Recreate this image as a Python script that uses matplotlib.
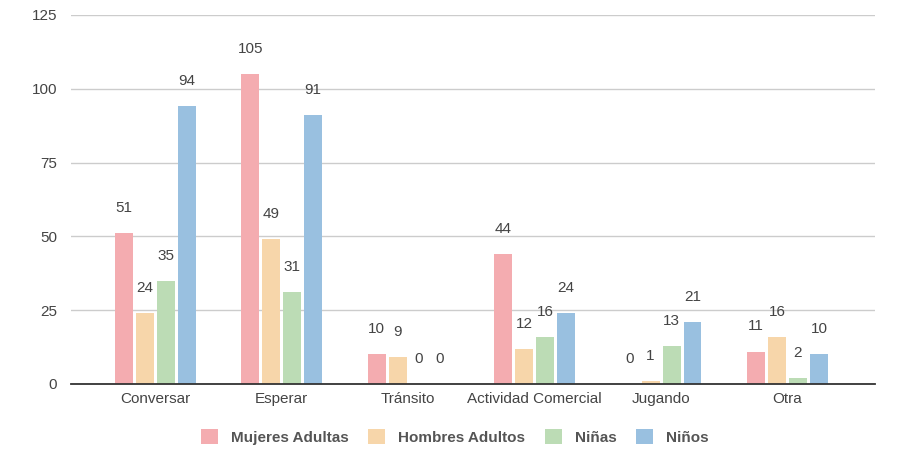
import numpy as np
import matplotlib
matplotlib.use("Agg")
import matplotlib.pyplot as plt

plt.rcParams['font.family'] = ['Liberation Sans', 'DejaVu Sans']

categories = ["Conversar", "Esperar", "Tránsito", "Actividad Comercial", "Jugando", "Otra"]
series = ["Mujeres Adultas", "Hombres Adultos", "Niñas", "Niños"]
mujeres = [51, 105, 10, 44, 0, 11]
hombres = [24, 49, 9, 12, 1, 16]
ninas = [35, 31, 0, 16, 13, 2]
ninos = [94, 91, 0, 24, 21, 10]
colors = ["#f4acb0", "#f7d6aa", "#bcdcb5", "#99c0e0"]

fig = plt.figure(figsize=(8.99, 4.5), dpi=100)
ax = fig.add_axes([0.079, 0.1467, 0.894, 0.82])

x = np.arange(len(categories))
step = 0.166
width = 0.142
for i, (vals, c, name) in enumerate(zip([mujeres, hombres, ninas, ninos], colors, series)):
    pos = x + (i - 1.5) * step
    ax.bar(pos, vals, width=width, color=c, label=name, zorder=3, linewidth=0)
    for p, v in zip(pos, vals):
        ax.annotate(str(v), (p, v), xytext=(0, 13), textcoords="offset points",
                    ha="center", va="bottom", fontsize=11, color="#444444")

ax.set_ylim(0, 125)
ax.set_yticks([0, 25, 50, 75, 100, 125])
ax.set_xlim(-0.666, 5.69)
ax.set_xticks(x)
ax.set_xticklabels(categories)
ax.tick_params(axis="both", length=0, labelsize=11, colors="#444444")
ax.tick_params(axis="y", pad=10)
ax.tick_params(axis="x", pad=6)
ax.grid(axis="y", color="#cccccc", linewidth=1, zorder=0)
for s in ["top", "right", "left"]:
    ax.spines[s].set_visible(False)
ax.spines["bottom"].set_color("#333333")
ax.spines["bottom"].set_linewidth(1.3)
ax.spines["bottom"].set_zorder(4)

handles, labels = ax.get_legend_handles_labels()
leg = fig.legend(handles, labels, loc="center", bbox_to_anchor=(0.506, 0.029), ncol=4,
                 frameon=False, handlelength=1.1, handleheight=1.1, columnspacing=1.3,
                 handletextpad=0.85, prop={"weight": "bold", "size": 11})
for t in leg.get_texts():
    t.set_color("#555555")

fig.savefig("out.png", dpi=100)
